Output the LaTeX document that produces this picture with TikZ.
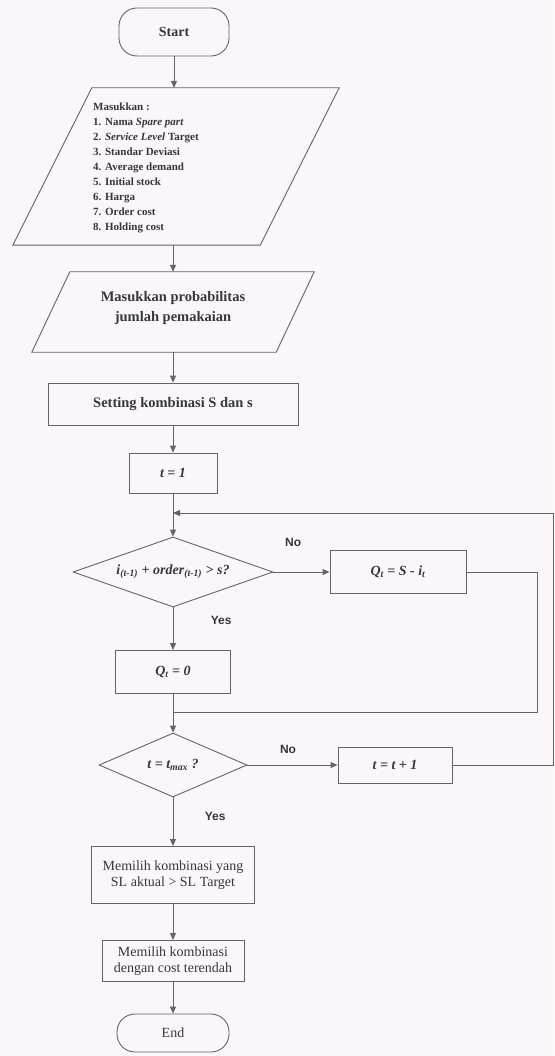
\documentclass[tikz,border=0pt]{standalone}
\usepackage{fontspec}
\setmainfont{Liberation Serif}
\newfontfamily\yesnofont{Liberation Sans}
\usetikzlibrary{arrows.meta,calc,shapes.geometric}

\definecolor{paper}{RGB}{250,246,249}
\definecolor{ink}{RGB}{55,55,58}
\definecolor{wire}{RGB}{100,100,104}

\begin{document}
\begin{tikzpicture}[x=1pt,y=-1pt,
  box/.style={draw=wire, line width=0.9pt, text=ink, inner sep=0pt, align=center,
              font=\fontsize{14}{16}\selectfont},
  term/.style={box, rounded corners=18pt, font=\fontsize{14}{16}\selectfont\bfseries},
  proc/.style={box, rectangle},
  ghost/.style={inner sep=0pt, draw=none},
  decision/.style={box, diamond, aspect=2.8},
  flow/.style={draw=wire, line width=0.9pt, -{Triangle[length=7pt,width=6pt]}},
  plain/.style={draw=wire, line width=0.9pt},
  yesno/.style={text=ink, font=\yesnofont\fontsize{12}{14}\selectfont\bfseries},
  formula/.style={font=\fontsize{14}{16}\selectfont\bfseries\itshape}
]
\useasboundingbox (0,0) rectangle (554,1056);
\fill[paper] (0,0) rectangle (554,1056);

% terminal and input blocks
\node[term, minimum width=110, minimum height=48] (start) at (174,32) {Start};

\node[ghost, minimum width=247, minimum height=157] (p1) at (176,166.5) {};
\draw[plain] ($(p1.north west)+(39.5,0)$) -- ($(p1.north east)+(39.5,0)$)
  -- ($(p1.south east)+(-39.5,0)$) -- ($(p1.south west)+(-39.5,0)$) -- cycle;
\node[ghost, anchor=north west, align=left, text=ink,
      font=\fontsize{11}{15}\selectfont\bfseries] (p1txt) at (93,103)
  {Masukkan :\\
   1. Nama \textit{Spare part}\\
   2. \textit{Service Level} Target\\
   3. Standar Deviasi\\
   4. Average demand\\
   5. Initial stock\\
   6. Harga\\
   7. Order cost\\
   8. Holding cost};

\node[ghost, minimum width=244, minimum height=80] (p2) at (173,312) {};
\draw[plain] ($(p2.north west)+(19,0)$) -- ($(p2.north east)+(19,0)$)
  -- ($(p2.south east)+(-19,0)$) -- ($(p2.south west)+(-19,0)$) -- cycle;
\node[ghost, align=center, text=ink, font=\fontsize{14.5}{20}\selectfont\bfseries]
  (p2txt) at (173,308) {Masukkan probabilitas\\jumlah pemakaian};

% simulation loop
\node[proc, minimum width=250, minimum height=42, font=\fontsize{14.5}{16}\selectfont\bfseries]
  (setting) at (173,404) {Setting kombinasi S dan s};
\node[proc, minimum width=88, minimum height=40, formula] (tone) at (173,473) {t = 1};
\coordinate (merge) at (173,513);
\node[decision, minimum width=200, minimum height=70, formula] (d1) at (173,572)
  {i\textsubscript{(t-1)} + order\textsubscript{(t-1)} > s?};
\node[proc, minimum width=136, minimum height=43, formula] (qorder) at (398,572)
  {Q\textsubscript{t} = S - i\textsubscript{t}};
\node[proc, minimum width=115, minimum height=43, formula] (qzero) at (173,672)
  {Q\textsubscript{t} = 0};
\coordinate (join) at (173,712);
\node[decision, minimum width=148, minimum height=64, formula] (d2) at (173,765)
  {t = t\textsubscript{max} ?};
\node[proc, minimum width=114, minimum height=36, formula] (tinc) at (395,765) {t = t + 1};

% selection and end
\node[proc, minimum width=163, minimum height=57] (pick1) at (173,875)
  {Memilih kombinasi yang\\SL aktual > SL Target};
\node[proc, minimum width=142, minimum height=41] (pick2) at (173,961)
  {Memilih kombinasi\\dengan cost terendah};
\node[term, minimum width=112, minimum height=38, font=\fontsize{14}{16}\selectfont]
  (end) at (173,1033) {End};

% connectors
\draw[flow] (start.south) -- (start.south |- p1.north);
\draw[flow] (p2.north |- p1.south) -- (p2.north);
\draw[flow] (p2.south) -- (setting.north);
\draw[flow] (setting.south) -- (tone.north);
\draw[flow] (tone.south) -- (d1.north);
\draw[flow] (d1.east) -- node[yesno, above=22pt, pos=0.35] {No} (qorder.west);
\draw[flow] (d1.south) -- node[yesno, right=34pt, pos=0.3] {Yes} (qzero.north);
\draw[plain] (qorder.east) -- (537,572) -- (537,712) -- (join);
\draw[flow] (qzero.south) -- (d2.north);
\draw[flow] (d2.east) -- node[yesno, above=8pt, pos=0.45] {No} (tinc.west);
\draw[flow] (tinc.east) -- (553,765) -- (553,513) -- (merge);
\draw[flow] (d2.south) -- node[yesno, right=28pt, pos=0.4] {Yes} (pick1.north);
\draw[flow] (pick1.south) -- (pick2.north);
\draw[flow] (pick2.south) -- (end.north);
\end{tikzpicture}
\end{document}
